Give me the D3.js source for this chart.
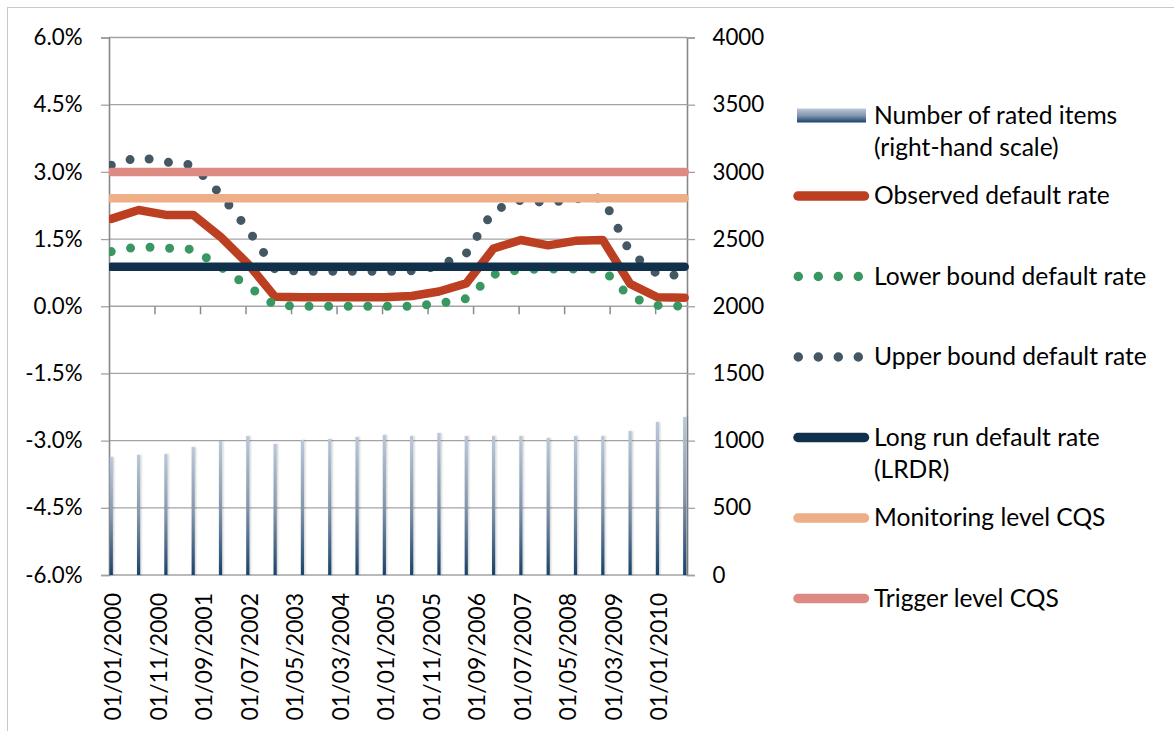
<!DOCTYPE html>
<html>
<head>
<meta charset="utf-8">
<script src="https://cdn.jsdelivr.net/npm/d3@7"></script>
<style>
  html, body { margin: 0; padding: 0; background: #fff; }
  svg { display: block; }
  text { font-family: Lato, "Open Sans", sans-serif; fill: #000; }
</style>
</head>
<body>
<svg id="chart" width="1174" height="731"></svg>
<script>
// ---------------- DATA ----------------
// semi-annual observation dates, as months since 01/2000
const categories = ["01/01/2000","01/07/2000","01/01/2001","01/07/2001","01/01/2002","01/07/2002",
  "01/01/2003","01/07/2003","01/01/2004","01/07/2004","01/01/2005","01/07/2005",
  "01/01/2006","01/07/2006","01/01/2007","01/07/2007","01/01/2008","01/07/2008",
  "01/01/2009","01/07/2009","01/01/2010","01/07/2010"];
const monthIndex = [0,6,12,18,24,30,36,42,48,54,60,66,72,78,84,90,96,102,108,114,120,126];

const ratedItems = [878, 893, 900, 952, 997, 1034, 975, 1004, 1012, 1027, 1042,
                    1034, 1057, 1034, 1034, 1034, 1019, 1034, 1034, 1071, 1138, 1176];
const observedRate = [1.95, 2.15, 2.04, 2.04, 1.55, 0.95, 0.21, 0.2, 0.2, 0.2, 0.2,
                      0.23, 0.33, 0.51, 1.29, 1.48, 1.36, 1.46, 1.48, 0.5, 0.2, 0.19];
const lowerBound = [1.22, 1.33, 1.3, 1.27, 0.88, 0.45, 0.02, 0, 0, 0, 0,
                    0, 0.06, 0.17, 0.71, 0.82, 0.83, 0.83, 0.83, 0.2, 0.02, 0];
const upperBound = [3.15, 3.33, 3.22, 3.15, 2.5, 1.72, 0.82, 0.78, 0.78, 0.78, 0.78,
                    0.79, 0.9, 1.18, 2.14, 2.37, 2.31, 2.4, 2.42, 1.2, 0.72, 0.68];
const lrdr = categories.map(() => 0.88);
const monitoringLevel = categories.map(() => 2.41);
const triggerLevel = categories.map(() => 3.0);

const leftTicks = [-6, -4.5, -3, -1.5, 0, 1.5, 3, 4.5, 6];
const rightTicks = [0, 500, 1000, 1500, 2000, 2500, 3000, 3500, 4000];
const labelMonths = [0,10,20,30,40,50,60,70,80,90,100,110,120];
const xLabels = ["01/01/2000","01/11/2000","01/09/2001","01/07/2002","01/05/2003","01/03/2004",
  "01/01/2005","01/11/2005","01/09/2006","01/07/2007","01/05/2008","01/03/2009","01/01/2010"];
const totalMonths = 127;

const legendItems = [
  {label: ["Number of rated items", "(right-hand scale)"], type: "bar"},
  {label: ["Observed default rate"], type: "line", color: "#bd3f22"},
  {label: ["Lower bound default rate"], type: "dot", color: "#399861"},
  {label: ["Upper bound default rate"], type: "dot", color: "#435862"},
  {label: ["Long run default rate", "(LRDR)"], type: "line", color: "#11304c"},
  {label: ["Monitoring level CQS"], type: "line", color: "#edae88"},
  {label: ["Trigger level CQS"], type: "line", color: "#dc8a82"}
];

// ---------------- LAYOUT ----------------
const svg = d3.select("#chart");
const plot = {left: 109, right: 687, top: 37.5, bottom: 575};

const x = d3.scaleLinear().domain([0, totalMonths]).range([plot.left, plot.right]);
const yL = d3.scaleLinear().domain([-6, 6]).range([plot.bottom, plot.top]);
const yR = d3.scaleLinear().domain([0, 4000]).range([plot.bottom, plot.top]);
const cx = i => x(monthIndex[i] + 0.5);

// outer frame
svg.append("rect").attr("x", 7.5).attr("y", 7.5).attr("width", 1200).attr("height", 800)
  .attr("fill", "none").attr("stroke", "#c9c9c9").attr("stroke-width", 1);

const defs = svg.append("defs");
const grad = defs.append("linearGradient").attr("id", "barGrad")
  .attr("x1", 0).attr("y1", 0).attr("x2", 0).attr("y2", 1);
grad.append("stop").attr("offset", "0%").attr("stop-color", "#bac8d9");
grad.append("stop").attr("offset", "50%").attr("stop-color", "#8497ad");
grad.append("stop").attr("offset", "100%").attr("stop-color", "#19426a");
const filt = defs.append("filter").attr("id", "shadow").attr("x", "-100%").attr("y", "-5%")
  .attr("width", "300%").attr("height", "110%");
filt.append("feDropShadow").attr("dx", 1).attr("dy", 0).attr("stdDeviation", 1.3)
  .attr("flood-color", "#000").attr("flood-opacity", 0.22);
defs.append("clipPath").attr("id", "clipL").append("rect")
  .attr("x", plot.left).attr("y", 0).attr("width", 700).attr("height", 731);

// gridlines
svg.append("g").selectAll("line").data(leftTicks).join("line")
  .attr("x1", plot.left).attr("x2", plot.right)
  .attr("y1", d => yL(d)).attr("y2", d => yL(d))
  .attr("stroke", "#a3a3a3").attr("stroke-width", 1.3);

// left axis
const axL = svg.append("g").attr("transform", `translate(${plot.left},0)`)
  .call(d3.axisLeft(yL).tickValues(leftTicks).tickSize(8).tickPadding(18.5)
    .tickFormat(d => (Math.abs(d) < 1e-9 ? 0 : d).toFixed(1) + "%"));
// right axis
const axR = svg.append("g").attr("transform", `translate(${plot.right},0)`)
  .call(d3.axisRight(yR).tickValues(rightTicks).tickSize(8).tickPadding(17.5)
    .tickFormat(d => String(d)));
[axL, axR].forEach(a => {
  a.attr("font-family", null).attr("font-size", null);
  a.select(".domain").attr("stroke", "#878787").attr("stroke-width", 1.6);
  a.selectAll(".tick line").attr("stroke", "#a3a3a3").attr("stroke-width", 1.3);
  a.selectAll(".tick text").style("font-size", "22.3px").attr("fill", "#000");
});

// category axis ticks at 0%
const axX = svg.append("g").attr("transform", `translate(0,${yL(0)})`)
  .call(d3.axisBottom(x).tickValues(labelMonths.slice(1)).tickSize(8).tickFormat(""));
axX.select(".domain").remove();
axX.selectAll(".tick line").attr("stroke", "#8a8a8a").attr("stroke-width", 1.5);

// bars
svg.append("g").selectAll("rect").data(ratedItems).join("rect")
  .attr("x", (d, i) => cx(i) - 1.6).attr("width", 3.2)
  .attr("y", d => yR(d)).attr("height", d => yR(0) - yR(d))
  .attr("fill", "url(#barGrad)").attr("filter", "url(#shadow)");

// lines
const lineGen = d3.line().x((d, i) => cx(i)).y(d => yL(d));
const series = [
  {data: observedRate, color: "#bd3f22", dot: false},
  {data: lowerBound, color: "#399861", dot: true},
  {data: upperBound, color: "#435862", dot: true},
  {data: lrdr, color: "#11304c", dot: false},
  {data: monitoringLevel, color: "#edae88", dot: false},
  {data: triggerLevel, color: "#dc8a82", dot: false}
];
const linesG = svg.append("g").attr("clip-path", "url(#clipL)");
series.forEach(s => {
  const p = linesG.append("path").datum(s.data).attr("d", lineGen)
    .attr("fill", "none").attr("stroke", s.color)
    .attr("stroke-linecap", "round").attr("stroke-linejoin", "round");
  if (s.dot) p.attr("stroke-width", 9).attr("stroke-dasharray", "0,19.6");
  else p.attr("stroke-width", 8.5);
});

// x labels
svg.append("g").selectAll("text").data(labelMonths).join("text")
  .attr("transform", d => `translate(${x(d + 0.5) + 1},593) rotate(-90)`)
  .attr("text-anchor", "end").attr("dominant-baseline", "central")
  .style("font-size", "23px")
  .text((d, i) => xLabels[i]);

// legend
const lg = svg.append("g");
legendItems.forEach((it, k) => {
  const cy = 115.5 + 80.5 * k;
  if (it.type === "bar") {
    lg.append("rect").attr("x", 797).attr("y", cy - 7).attr("width", 69).attr("height", 14)
      .attr("fill", "url(#barGrad)");
  } else if (it.type === "line") {
    lg.append("line").attr("x1", 798).attr("x2", 864.5).attr("y1", cy).attr("y2", cy)
      .attr("stroke", it.color).attr("stroke-width", 9.5).attr("stroke-linecap", "round");
  } else {
    lg.append("line").attr("x1", 798.3).attr("x2", 862).attr("y1", cy).attr("y2", cy)
      .attr("stroke", it.color).attr("stroke-width", 9.5).attr("stroke-linecap", "round")
      .attr("stroke-dasharray", "0,20");
  }
  it.label.forEach((t, j) => {
    lg.append("text").attr("x", 874).attr("y", cy - 1.5 + j * 32)
      .attr("dominant-baseline", "central").style("font-size", "24.6px").text(t);
  });
});
</script>
</body>
</html>
